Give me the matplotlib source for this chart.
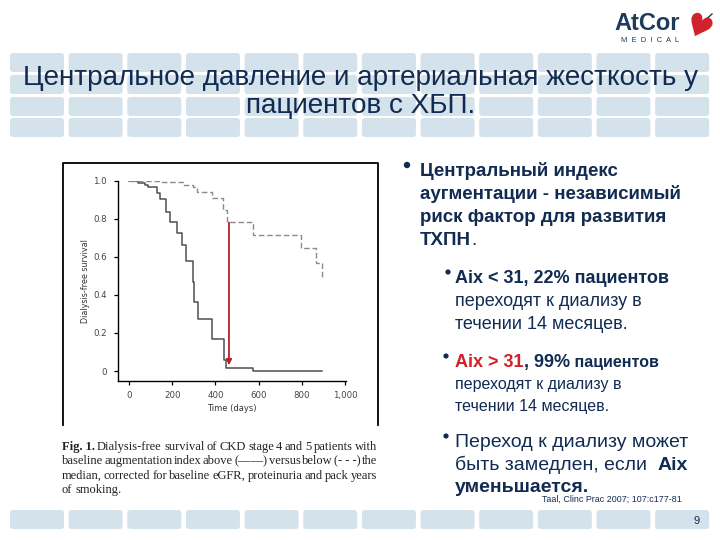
import matplotlib
matplotlib.use("Agg")
import matplotlib.pyplot as plt
from matplotlib.patches import FancyBboxPatch, Circle

# --- данные кривых выживаемости (дни, доля без диализа) ---
above_days = [0, 43, 74, 90, 128, 144, 171, 190, 221, 244, 264, 298, 301, 321, 383, 440, 449, 576, 892]
above_surv = [1.0, 0.986, 0.977, 0.965, 0.933, 0.902, 0.834, 0.783, 0.723, 0.66, 0.578, 0.47, 0.364,
              0.273, 0.166, 0.058, 0.015, 0.0, 0.0]
below_days = [0, 144, 252, 298, 313, 383, 437, 452, 576, 795, 866, 892]
below_surv = [1.0, 0.993, 0.977, 0.965, 0.942, 0.907, 0.846, 0.783, 0.713, 0.644, 0.566, 0.492]
arrow_day = 463
arrow_from, arrow_to = 0.78, 0.03

x_ticks = [0, 200, 400, 600, 800, 1000]
x_labels = ["0", "200", "400", "600", "800", "1,000"]
y_ticks = [0, 0.2, 0.4, 0.6, 0.8, 1.0]
y_labels = ["0", "0.2", "0.4", "0.6", "0.8", "1.0"]

title_lines = ["Центральное давление и артериальная жесткость у", "пациентов с ХБП."]
caption_lines = [
    [("Fig. 1.", "bold"), "Dialysis-free", "survival", "of", "CKD", "stage", "4", "and", "5", "patients", "with"],
    ["baseline", "augmentation", "index", "above", "(——)", "versus", "below", "(- - -)", "the"],
    ["median,", "corrected", "for", "baseline", "eGFR,", "proteinuria", "and", "pack", "years"],
    ["of", "smoking."],
]

NAVY = "#112b52"
RED = "#d0202a"
TILE = "#d3e2eb"
SANS = ["Liberation Sans", "DejaVu Sans"]
SERIF = ["Liberation Serif", "DejaVu Serif"]

fig = plt.figure(figsize=(7.2, 5.4), dpi=100)
bg = fig.add_axes([0, 0, 1, 1])
bg.set_xlim(0, 720)
bg.set_ylim(540, 0)
bg.axis("off")
renderer = fig.canvas.get_renderer()


def text_width(t):
    bb = t.get_window_extent(renderer=renderer)
    return bb.width


def runs(x, y, parts):
    # последовательно рисуем куски текста разного стиля
    for s, kw in parts:
        t = bg.text(x, y, s, va="baseline", ha="left", family=SANS, **kw)
        x += text_width(t)
    return x


# плитки шапки и подвала
col_x = [10 + 58.65 * k for k in range(12)]
for cx in col_x:
    for ry in [53, 75, 97, 118]:
        bg.add_patch(FancyBboxPatch((cx, ry), 54, 19, boxstyle="round,pad=0,rounding_size=3",
                                    fc=TILE, ec="none"))
    bg.add_patch(FancyBboxPatch((cx, 510), 54, 19, boxstyle="round,pad=0,rounding_size=3",
                                fc=TILE, ec="none"))

# заголовок
bg.text(361, 85, title_lines[0], ha="center", va="baseline", family=SANS, fontsize=20.1, color=NAVY)
bg.text(361, 113, title_lines[1], ha="center", va="baseline", family=SANS, fontsize=20.1, color=NAVY)

# логотип
bg.text(614, 30, "AtCor", ha="left", va="baseline", family=SANS, fontsize=17, fontweight="bold", color="#1d3b5c")
bg.text(650, 42, "M  E  D  I  C  A  L", ha="center", va="baseline", family=SANS, fontsize=5.4, color="#1d3b5c")
bg.text(697, 29, "♥", ha="center", va="center", family=["DejaVu Sans"], fontsize=22, color=RED, rotation=-25)
bg.plot([704, 712], [21, 14], color="#1d3b5c", lw=1)

# рамка рисунка
bg.plot([63, 63, 378, 378], [425, 163, 163, 425], color="black", lw=1.3)

# подпись к рисунку, выровненная по ширине
cap_left, cap_right = 62, 377
for i, words in enumerate(caption_lines):
    y = 450 + i * 14.4
    items = []
    for w in words:
        if isinstance(w, tuple):
            t = bg.text(0, y, w[0], fontweight=w[1], family=SERIF, fontsize=9.0, color="#222222", va="baseline")
        else:
            t = bg.text(0, y, w, family=SERIF, fontsize=9.0, color="#222222", va="baseline")
        items.append(t)
    widths = [text_width(t) for t in items]
    if i < len(caption_lines) - 1:
        gap = (cap_right - cap_left - sum(widths)) / (len(items) - 1)
    else:
        gap = 3.0
    x = cap_left
    for t, w in zip(items, widths):
        t.set_x(x)
        x += w + gap

# маркеры списка
for bx, by, r in [(407, 165, 3.2), (448, 272, 2.6), (446, 356, 2.6), (446, 436, 2.6)]:
    bg.add_patch(Circle((bx, by), r, fc=NAVY, ec="none"))

b = dict(fontweight="bold", color=NAVY)
n = dict(color=NAVY)
runs(420, 176, [("Центральный индекс", dict(fontsize=13.5, **b))])
runs(420, 199, [("аугментации - независимый", dict(fontsize=13.5, **b))])
runs(420, 222, [("риск фактор для развития", dict(fontsize=13.5, **b))])
runs(420, 245, [("ТХПН", dict(fontsize=13.5, **b)), (".", dict(fontsize=13.5, **n))])

runs(455, 283, [("Aix < 31, 22% пациентов", dict(fontsize=13, **b))])
runs(455, 306, [("переходят к диализу в", dict(fontsize=13, **n))])
runs(455, 329, [("течении 14 месяцев.", dict(fontsize=13, **n))])

runs(455, 367, [("Aix > 31", dict(fontsize=13, fontweight="bold", color=RED)),
                (", 99%", dict(fontsize=13, **b)),
                (" пациентов", dict(fontsize=11.5, **b))])
runs(455, 389, [("переходят к диализу в", dict(fontsize=11.5, **n))])
runs(455, 411, [("течении 14 месяцев.", dict(fontsize=11.5, **n))])

runs(455, 447, [("Переход к диализу может", dict(fontsize=14, **n))])
runs(455, 470, [("быть замедлен, если  ", dict(fontsize=14, **n)), ("Aix", dict(fontsize=14, **b))])
runs(455, 492, [("уменьшается.", dict(fontsize=14, **b))])
bg.text(542, 502, "Taal, Clinc Prac 2007; 107:c177-81", ha="left", va="baseline", family=SANS,
        fontsize=6.4, color=NAVY)

bg.text(697, 524, "9", ha="center", va="baseline", family=SANS, fontsize=8, color=NAVY)

# --- график выживаемости ---
ax = fig.add_axes([118 / 720, (540 - 381) / 540, (346 - 118) / 720, (381 - 180.7) / 540])
ax.step(above_days, above_surv, where="post", color="#505050", lw=1.1)
ax.step(below_days, below_surv, where="post", color="#8a8a8a", lw=1.0, linestyle=(0, (4, 2)))
ax.annotate("", xy=(arrow_day, arrow_to), xytext=(arrow_day, arrow_from),
            arrowprops=dict(arrowstyle="-|>", color="#b5222a", lw=1.3, mutation_scale=8,
                            shrinkA=0, shrinkB=0))
ax.set_xlim(-51, 1005)
ax.set_ylim(-0.0525, 1.0)
ax.set_xticks(x_ticks)
ax.set_xticklabels(x_labels)
ax.set_yticks(y_ticks)
ax.set_yticklabels(y_labels)
ax.spines["top"].set_visible(False)
ax.spines["right"].set_visible(False)
for s in ["left", "bottom"]:
    ax.spines[s].set_linewidth(1.0)
ax.tick_params(axis="both", length=3, width=0.9, labelsize=6.2, labelcolor="#444444", pad=5)
ax.tick_params(axis="x", pad=4)
ax.set_xlabel("Time (days)", fontsize=6, color="#333333", labelpad=3)
ax.set_ylabel("Dialysis-free survival", fontsize=5.8, color="#333333", labelpad=2)
ax.patch.set_alpha(0)

fig.savefig("out.png", dpi=100)
